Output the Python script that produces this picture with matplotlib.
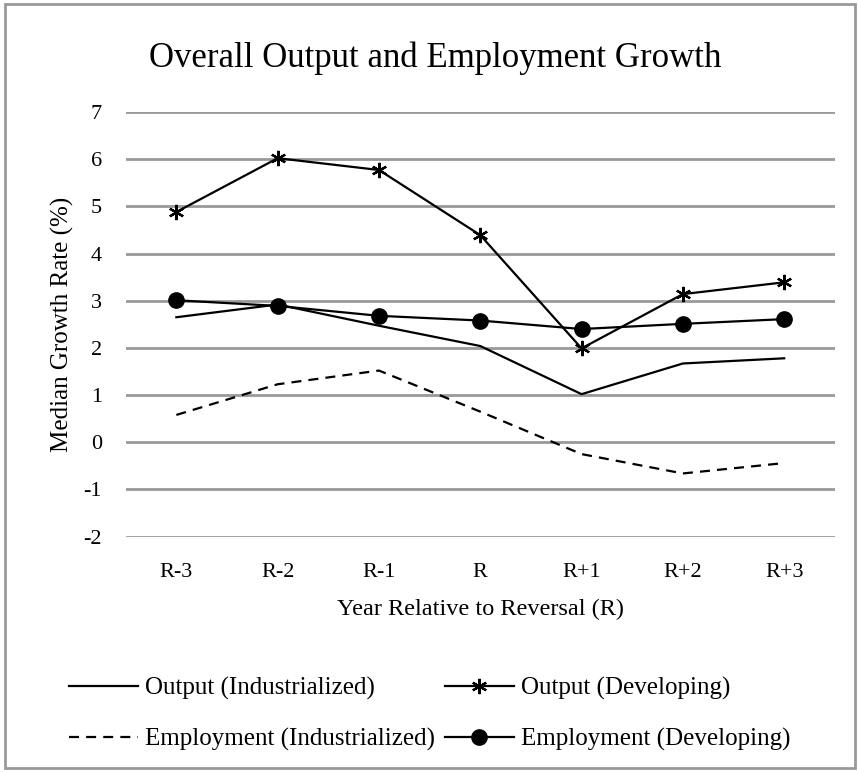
import matplotlib
matplotlib.use('Agg')
import matplotlib.pyplot as plt
from matplotlib.patches import Rectangle

plt.rcParams['font.family'] = ['Liberation Serif', 'DejaVu Serif']

# data
years = ['R-3', 'R-2', 'R-1', 'R', 'R+1', 'R+2', 'R+3']
output_ind = [2.65, 2.92, 2.47, 2.04, 1.02, 1.67, 1.78]
output_dev = [4.88, 6.02, 5.77, 4.39, 1.99, 3.14, 3.39]
employment_ind = [0.58, 1.23, 1.52, 0.65, -0.25, -0.66, -0.44]
employment_dev = [3.01, 2.89, 2.68, 2.58, 2.40, 2.51, 2.61]
yticks = [-2, -1, 0, 1, 2, 3, 4, 5, 6, 7]

fig = plt.figure(figsize=(8.58, 7.72), dpi=100)
ax = fig.add_axes([0.1465, 0.3048, 0.8265, 0.5502])

x = range(len(years))
l_oi, = ax.plot(x, output_ind, color='black', lw=1.6, label='Output (Industrialized)')
l_od, = ax.plot(x, output_dev, color='black', lw=1.6, marker=(6, 2, 0), ms=11,
                mew=1.6, label='Output (Developing)')
l_ei, = ax.plot(x, employment_ind, color='black', lw=1.6, ls=(0, (4.5, 3.2)),
                label='Employment (Industrialized)')
l_ed, = ax.plot(x, employment_dev, color='black', lw=1.6, marker='o', ms=11,
                label='Employment (Developing)')

ax.set_xlim(-0.5, len(years) - 0.5)
ax.set_ylim(-2, 7)
ax.set_yticks(yticks)
ax.set_yticklabels([str(v) for v in yticks])
ax.set_xticks(list(x))
ax.set_xticklabels(years)
ax.tick_params(length=0, labelsize=16)
ax.tick_params(axis='y', pad=17)
ax.tick_params(axis='x', pad=19)
ax.yaxis.grid(True, color='#999999', lw=2)
ax.set_axisbelow(True)
for s in ax.spines.values():
    s.set_visible(False)

ax.set_ylabel('Median Growth Rate (%)', fontsize=18, labelpad=7)
ax.set_xlabel('Year Relative to Reversal (R)', fontsize=17.5, labelpad=12)
fig.text(0.507, 0.925, 'Overall Output and Employment Growth', fontsize=25,
         ha='center', va='center')

# column-wise fill: outputs on the first row, employment on the second
fig.legend(handles=[l_oi, l_ei, l_od, l_ed], loc='center',
           bbox_to_anchor=(0.501, 0.0755), ncol=2, frameon=False,
           fontsize=18, handlelength=2.75, columnspacing=0.4,
           handletextpad=0.3, labelspacing=1.12)

# frame around the chart area
fig.patches.append(Rectangle((5 / 858, 4 / 772), 850 / 858, 764 / 772,
                             transform=fig.transFigure, fill=False,
                             edgecolor='#999999', lw=2))

fig.savefig('out.png', dpi=100)
